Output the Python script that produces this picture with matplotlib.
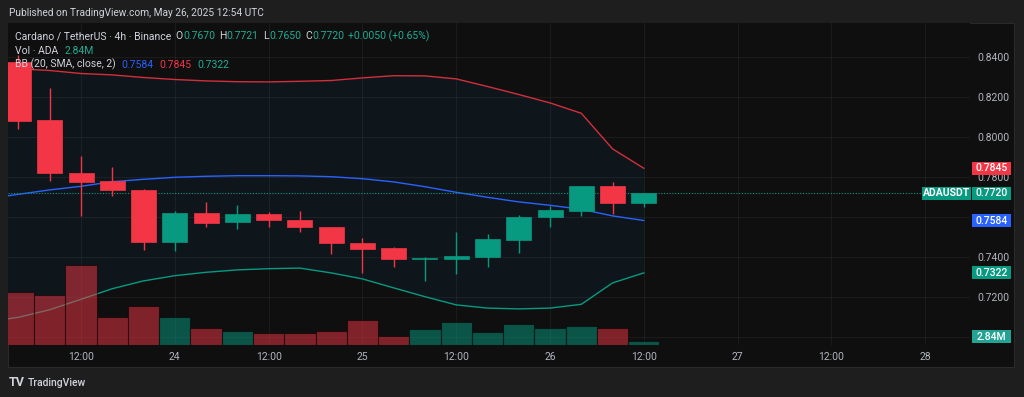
import numpy as np
import pandas as pd
import matplotlib
matplotlib.use('Agg')
import matplotlib.pyplot as plt
import matplotlib.dates as mdates
from matplotlib.patches import Rectangle
from matplotlib.transforms import blended_transform_factory

plt.rcParams['font.family'] = ['Roboto', 'DejaVu Sans']

# 4h candles ADA/USDT, 23 May 04:00 -> 26 May 12:00
times = pd.date_range('2025-05-23 04:00', periods=21, freq='4h')
opens = [0.8378, 0.8085, 0.7822, 0.7782, 0.7738, 0.7475, 0.7622, 0.7578, 0.7617, 0.7588, 0.7553,
         0.7473, 0.7447, 0.7393, 0.7393, 0.7403, 0.7487, 0.7600, 0.7632, 0.7755, 0.7670]
highs = [0.8412, 0.8248, 0.7908, 0.7853, 0.7740, 0.7633, 0.7675, 0.7662, 0.7625, 0.7630, 0.7553,
         0.7498, 0.7452, 0.7403, 0.7527, 0.7517, 0.7610, 0.7658, 0.7758, 0.7775, 0.7721]
lows = [0.8040, 0.7783, 0.7608, 0.7708, 0.7437, 0.7433, 0.7553, 0.7540, 0.7553, 0.7525, 0.7417,
        0.7320, 0.7350, 0.7283, 0.7317, 0.7353, 0.7420, 0.7553, 0.7608, 0.7618, 0.7650]
closes = [0.8083, 0.7820, 0.7777, 0.7735, 0.7475, 0.7622, 0.7573, 0.7617, 0.7587, 0.7550, 0.7472,
          0.7443, 0.7390, 0.7396, 0.7407, 0.7490, 0.7603, 0.7635, 0.7755, 0.7670, 0.7720]
volumes = [37.4, 35.5, 56.8, 19.7, 27.7, 19.7, 11.9, 9.7, 8.3, 8.7, 9.7,
           17.8, 6.4, 11.1, 16.3, 9.0, 14.7, 11.9, 13.3, 12.3, 2.84]  # millions

# Bollinger bands (one bar earlier so the lines reach the left edge)
band_times = pd.date_range('2025-05-23 00:00', periods=22, freq='4h')
bb_upper = [0.8346, 0.8342, 0.8334, 0.8319, 0.8312, 0.8299, 0.8289, 0.8282, 0.8278, 0.8277, 0.8280,
            0.8284, 0.8297, 0.8308, 0.8307, 0.8292, 0.8254, 0.8214, 0.8172, 0.8120, 0.7942, 0.7845]
bb_mid = [0.7693, 0.7715, 0.7737, 0.7755, 0.7778, 0.7790, 0.7800, 0.7805, 0.7808, 0.7808, 0.7807,
          0.7803, 0.7793, 0.7777, 0.7753, 0.7725, 0.7700, 0.7677, 0.7660, 0.7640, 0.7607, 0.7584]
bb_lower = [0.7077, 0.7100, 0.7138, 0.7190, 0.7243, 0.7282, 0.7308, 0.7325, 0.7337, 0.7343, 0.7346,
            0.7322, 0.7292, 0.7247, 0.7203, 0.7162, 0.7146, 0.7142, 0.7146, 0.7165, 0.7272, 0.7322]

tick_times = ['2025-05-23 12:00', '2025-05-24 00:00', '2025-05-24 12:00', '2025-05-25 00:00',
              '2025-05-25 12:00', '2025-05-26 00:00', '2025-05-26 12:00', '2025-05-27 00:00',
              '2025-05-27 12:00', '2025-05-28 00:00']
tick_labels = ['12:00', '24', '12:00', '25', '12:00', '26', '12:00', '27', '12:00', '28']
price_ticks = [0.70, 0.72, 0.74, 0.76, 0.78, 0.80, 0.82, 0.84]
price_labels = ['', '0.7200', '0.7400', '', '0.7800', '0.8000', '0.8200', '0.8400']  # 0.70/0.76 sit under tags

UP = '#089981'
DOWN = '#f23645'
TXT = '#d1d4dc'
AXT = '#b2b5be'
VAL = '#22ab94'

W, H = 1024, 397
fig = plt.figure(figsize=(W / 100, H / 100), dpi=100, facecolor='#1e1e1e')


def fx(px):
    return px / W


def fy(py):
    return 1 - py / H


# chart pane
fig.patches.append(Rectangle((fx(8), fy(367)), fx(1014) - fx(8), fy(23) - fy(367),
                             transform=fig.transFigure, facecolor='#0f0f0f',
                             edgecolor='#2a2a2a', lw=0.8, zorder=-1))

ax = fig.add_axes([fx(8), fy(345), fx(970) - fx(8), fy(23) - fy(345)])
ax.set_facecolor('#0f0f0f')
for s in ax.spines.values():
    s.set_visible(False)

x = mdates.date2num(times)
xb = mdates.date2num(band_times)
step = 4 / 24
ax.set_xlim(x[0] - 0.335 * step, x[0] + 30.43 * step)
ax.set_ylim(0.69615, 0.85715)

# bands
ax.fill_between(xb, bb_lower, bb_upper, color='#2196f3', alpha=0.055, lw=0, zorder=1)
ax.plot(xb, bb_upper, color='#d12f3d', lw=1.0, zorder=2)
ax.plot(xb, bb_mid, color='#2962ff', lw=1.0, zorder=2)
ax.plot(xb, bb_lower, color='#089981', lw=1.0, zorder=2)

ax.axhline(closes[-1], color=UP, ls=(0, (1, 1.5)), lw=0.8, zorder=2)

# candles
o = np.array(opens)
c = np.array(closes)
cols = [UP if cc >= oo else DOWN for oo, cc in zip(opens, closes)]
ax.vlines(x, lows, highs, colors=cols, lw=1.0, zorder=3)
ax.bar(x, np.maximum(np.abs(c - o), 0.0004), bottom=np.minimum(o, c), width=step * 0.8,
       color=cols, edgecolor=cols, lw=0.5, zorder=4)

ax.grid(True, color='#ffffff', alpha=0.05, lw=0.8)
ax.set_axisbelow(True)
ax.set_xticks(mdates.date2num(pd.to_datetime(tick_times)))
ax.set_xticklabels(tick_labels)

# volume
ax2 = ax.twinx()
ax2.set_ylim(0, 228.6)
ax2.set_yticks([])
for s in ax2.spines.values():
    s.set_visible(False)
ax2.bar(x, volumes, width=step, color=cols, alpha=0.5, edgecolor=(0, 0, 0, 0.5), lw=0.8, zorder=2)

# price scale on the right (after twinx, which moves it left)
ax.yaxis.tick_right()
ax.set_yticks(price_ticks)
ax.set_yticklabels(price_labels)
ax.tick_params(axis='both', length=0, colors=AXT, labelsize=7.5)
ax.tick_params(axis='x', pad=5)
ax.tick_params(axis='y', pad=5.5)


def tag(axis, value, label, color, px0, px1, dy=0, bold=False):
    trans = blended_transform_factory(axis.transAxes, axis.transData)
    lo, hi = axis.get_ylim()
    per_px = (hi - lo) / (axis.get_position().height * H)
    half = 6.5 * per_px
    yc = value + dy * per_px
    a0 = (px0 - 8) / 962
    a1 = (px1 - 8) / 962
    axis.add_patch(Rectangle((a0, yc - half), a1 - a0, 2 * half, transform=trans,
                             facecolor=color, edgecolor='none', clip_on=False, zorder=10))
    axis.text((a0 + a1) / 2, yc, label, transform=trans, ha='center', va='center',
              color='white', fontsize=7.5, clip_on=False, zorder=11,
              fontweight='bold' if bold else 'medium')


tag(ax, bb_upper[-1], '%.4f' % bb_upper[-1], DOWN, 972, 1011)
tag(ax, closes[-1], 'ADAUSDT', UP, 922, 971, bold=True)
tag(ax, closes[-1], '%.4f' % closes[-1], UP, 972, 1011)
tag(ax, bb_mid[-1], '%.4f' % bb_mid[-1], '#2962ff', 972, 1011)
tag(ax, bb_lower[-1], '%.4f' % bb_lower[-1], UP, 972, 1011)
tag(ax2, volumes[-1], '%.2fM' % volumes[-1], '#22a393', 972, 1011, dy=4.3)

# legend rows: segments chained one after another
renderer = fig.canvas.get_renderer()


def row(px, py, parts, size=7.5):
    left = px
    for gap, t, col in parts:
        left += gap
        txt = fig.text(fx(left), fy(py), t, color=col, fontsize=size, va='center')
        left = txt.get_window_extent(renderer).x1


fig.text(fx(9), fy(13), 'Published on TradingView.com, May 26, 2025 12:54 UTC',
         color=TXT, fontsize=7.3, va='center')
row(15, 36, [(0, 'Cardano / TetherUS · 4h · Binance', TXT), (4, 'O', TXT), (0.5, '%.4f' % opens[-1], VAL),
             (4, 'H', TXT), (0.5, '%.4f' % highs[-1], VAL), (4, 'L', TXT),
             (0.5, '%.4f' % lows[-1], VAL), (4, 'C', TXT), (0.5, '%.4f' % closes[-1], VAL),
             (4, '+0.0050 (+0.65%)', VAL)])
row(15, 50.5, [(0, 'Vol · ADA', TXT), (6, '%.2fM' % volumes[-1], VAL)])
row(15, 64.5, [(0, 'BB (20, SMA, close, 2)', TXT), (6, '%.4f' % bb_mid[-1], '#2962ff'),
               (6, '%.4f' % bb_upper[-1], DOWN), (6, '%.4f' % bb_lower[-1], VAL)])

# footer
fig.text(fx(9), fy(382.5), 'TV', color=TXT, fontsize=9, fontweight='bold', va='center')
fig.text(fx(28), fy(382.5), 'TradingView', color=TXT, fontsize=7.5, fontweight='medium', va='center')

fig.savefig('out.png', dpi=100, facecolor=fig.get_facecolor())
